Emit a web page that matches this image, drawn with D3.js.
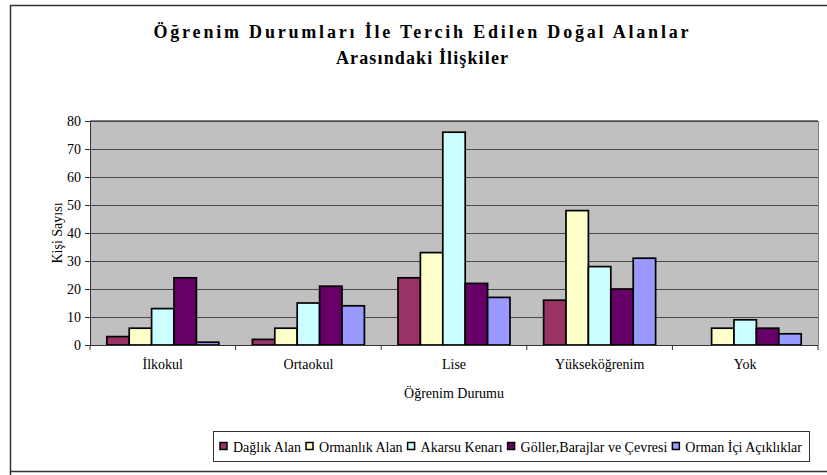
<!DOCTYPE html>
<html><head><meta charset="utf-8">
<script src="https://cdn.jsdelivr.net/npm/d3@7"></script>
<style>
body{margin:0;background:#fff;}
svg text{font-family:"Liberation Serif","Times New Roman",serif !important;}
</style></head>
<body><svg id="c" width="827" height="475"></svg>
<script>
const categories = ["İlkokul","Ortaokul","Lise","Yükseköğrenim","Yok"];
const seriesNames = ["Dağlık Alan","Ormanlık Alan","Akarsu Kenarı","Göller,Barajlar ve Çevresi","Orman İçi Açıklıklar"];
const dagLik   = [3, 2, 24, 16, 0];
const ormanlik = [6, 6, 33, 48, 6];
const akarsu   = [13, 15, 76, 28, 9];
const goller   = [24, 21, 22, 20, 6];
const ormanIci = [1, 14, 17, 31, 4];
const yTicks = [0,10,20,30,40,50,60,70,80];
const colors = ["#993366","#FFFFCC","#CCFFFF","#660066","#9999FF"];

const seriesVals = [dagLik, ormanlik, akarsu, goller, ormanIci];
const svg = d3.select("#c");
const SERIF = "Liberation Serif, Times New Roman, serif";
const FS = 14;
const L=90, R=818, T=121, B=345;

// outer border
svg.append("path").attr("d","M10.5,480 L10.5,5.5 L840,5.5 M10,471.5 L840,471.5")
  .attr("fill","none").attr("stroke","#333").attr("stroke-width",1.5);

// title
const title = svg.append("text").attr("text-anchor","middle").attr("font-weight","bold")
  .attr("font-family",SERIF).attr("font-size",18).attr("fill","#000");
title.append("tspan").attr("x",421).attr("y",38).attr("textLength",535).attr("lengthAdjust","spacing")
  .text("Öğrenim Durumları İle Tercih Edilen Doğal Alanlar");
title.append("tspan").attr("x",422).attr("y",64).attr("textLength",172).attr("lengthAdjust","spacing")
  .text("Arasındaki İlişkiler");

const x0 = d3.scaleBand().domain(categories).range([L,R]).paddingInner(0).paddingOuter(0);
const step = x0.bandwidth();
const bw = step/6.5;
const x1 = d3.scaleBand().domain(d3.range(5)).range([0.75*bw, 0.75*bw+5*bw]);
const y = d3.scaleLinear().domain([0,80]).range([B,T]);

svg.append("rect").attr("x",L).attr("y",T).attr("width",R-L).attr("height",B-T).attr("fill","#C0C0C0");
svg.append("line").attr("x1",R+0.5).attr("x2",R+0.5).attr("y1",T).attr("y2",B).attr("stroke","#808080");
svg.append("line").attr("x1",L).attr("x2",R).attr("y1",T-0.5).attr("y2",T-0.5).attr("stroke","#808080");

// gridlines
svg.append("g").selectAll("line").data(yTicks.filter(d=>d>0)).join("line")
  .attr("x1",L).attr("x2",R).attr("y1",d=>Math.round(y(d))+0.5).attr("y2",d=>Math.round(y(d))+0.5)
  .attr("stroke","#4a4a4a").attr("stroke-width",1);

// bars
categories.forEach((c,ci)=>{
  seriesVals.forEach((arr,si)=>{
    const v = arr[ci];
    svg.append("rect")
      .attr("x", x0(c)+x1(si))
      .attr("y", y(v))
      .attr("width", x1.bandwidth())
      .attr("height", B - y(v))
      .attr("fill", colors[si]).attr("stroke","#000").attr("stroke-width",1.7);
  });
});

// y axis
const ya = svg.append("g").attr("transform",`translate(${L},0)`)
  .call(d3.axisLeft(y).tickValues(yTicks).tickSize(5).tickPadding(4));
ya.attr("font-family",SERIF).attr("font-size",FS);
ya.select(".domain").attr("stroke","#333");
ya.selectAll(".tick line").attr("stroke","#333");
ya.selectAll("text").attr("font-size",FS).attr("font-family",SERIF).attr("fill","#000");

// x axis
svg.append("line").attr("x1",L).attr("x2",R).attr("y1",B+0.5).attr("y2",B+0.5).attr("stroke","#333");
svg.append("g").selectAll("line").data(d3.range(categories.length+1)).join("line")
  .attr("x1",d=>L+d*step).attr("x2",d=>L+d*step).attr("y1",B).attr("y2",B+5).attr("stroke","#333");
svg.append("g").selectAll("text").data(categories).join("text")
  .attr("x",d=>x0(d)+step/2).attr("y",369).attr("text-anchor","middle")
  .attr("font-family",SERIF).attr("font-size",FS).text(d=>d);

svg.append("text").attr("x",(L+R)/2).attr("y",398).attr("text-anchor","middle")
  .attr("font-family",SERIF).attr("font-size",FS).text("Öğrenim Durumu");
svg.append("text").attr("transform","translate(62,233) rotate(-90)").attr("text-anchor","middle")
  .attr("font-family",SERIF).attr("font-size",FS).text("Kişi Sayısı");

// legend
const lg = svg.append("g");
const LB = {x:213.5, y:431.5, w:596, h:30};
lg.append("rect").attr("x",LB.x).attr("y",LB.y).attr("width",LB.w).attr("height",LB.h)
  .attr("fill","#fff").attr("stroke","#333").attr("stroke-width",1);
const texts = seriesNames.map(n => lg.append("text").attr("y",LB.y+20)
  .attr("font-family",SERIF).attr("font-size",FS).text(n));
const widths = texts.map(t=>t.node().getComputedTextLength());
const startX = 220, endX = 802, sq = 8, gap = 5;
const sep = (endX - startX - d3.sum(widths) - seriesNames.length*(sq+gap)) / (seriesNames.length-1);
let lx = startX;
seriesNames.forEach((n,i)=>{
  lg.append("rect").attr("x",lx).attr("y",LB.y+11).attr("width",7).attr("height",7)
    .attr("fill",colors[i]).attr("stroke","#000").attr("stroke-width",1.5);
  texts[i].attr("x",lx+sq+gap);
  lx += sq + gap + widths[i] + sep;
});
</script></body></html>
